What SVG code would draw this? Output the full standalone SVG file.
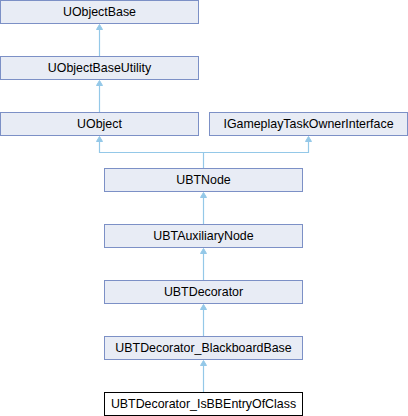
<svg xmlns="http://www.w3.org/2000/svg" width="408" height="416" viewBox="0 0 408 416">
<style>
.n rect{fill:#e8ecf5;stroke:#7c90c6;stroke-width:1}
.n.cur rect{fill:#ffffff;stroke:#000000}
.n text{font-family:"Liberation Sans",Arial,sans-serif;font-size:12.4px;fill:#000;text-anchor:middle}
.e line,.e polyline{stroke:#94c8e8;stroke-width:1.2;fill:none}
.e polygon{fill:#94c8e8;stroke:#94c8e8;stroke-width:1}
</style>
<rect width="408" height="416" fill="#ffffff"/>
<g id="connectors" class="e">
<line x1="99.5" y1="25" x2="99.5" y2="56.5"/>
<polygon points="99.5,24.5 102.5,29.5 96.5,29.5"/>
<line x1="99.5" y1="81" x2="99.5" y2="112.5"/>
<polygon points="99.5,80.5 102.5,85.5 96.5,85.5"/>
<polyline points="99.5,137 99.5,152.5 308.5,152.5 308.5,137"/>
<polygon points="99.5,136.5 102.5,141.5 96.5,141.5"/>
<polygon points="308.5,136.5 311.5,141.5 305.5,141.5"/>
<line x1="203.5" y1="152.5" x2="203.5" y2="168.5"/>
<line x1="203.5" y1="193" x2="203.5" y2="224.5"/>
<polygon points="203.5,192.5 206.5,197.5 200.5,197.5"/>
<line x1="203.5" y1="249" x2="203.5" y2="280.5"/>
<polygon points="203.5,248.5 206.5,253.5 200.5,253.5"/>
<line x1="203.5" y1="305" x2="203.5" y2="336.5"/>
<polygon points="203.5,304.5 206.5,309.5 200.5,309.5"/>
<line x1="203.5" y1="361" x2="203.5" y2="392.5"/>
<polygon points="203.5,360.5 206.5,365.5 200.5,365.5"/>
</g>
<g id="UObjectBase" class="n"><rect x="0.5" y="0.5" width="198" height="23"/><text x="99.5" y="16.3">UObjectBase</text></g>
<g id="UObjectBaseUtility" class="n"><rect x="0.5" y="56.5" width="198" height="23"/><text x="99.5" y="72.3">UObjectBaseUtility</text></g>
<g id="UObject" class="n"><rect x="0.5" y="112.5" width="198" height="23"/><text x="99.5" y="128.3">UObject</text></g>
<g id="IGameplayTaskOwnerInterface" class="n"><rect x="209.5" y="112.5" width="198" height="23"/><text x="308.5" y="128.3">IGameplayTaskOwnerInterface</text></g>
<g id="UBTNode" class="n"><rect x="104.5" y="168.5" width="198" height="23"/><text x="203.5" y="184.3">UBTNode</text></g>
<g id="UBTAuxiliaryNode" class="n"><rect x="104.5" y="224.5" width="198" height="23"/><text x="203.5" y="240.3">UBTAuxiliaryNode</text></g>
<g id="UBTDecorator" class="n"><rect x="104.5" y="280.5" width="198" height="23"/><text x="203.5" y="296.3">UBTDecorator</text></g>
<g id="UBTDecorator_BlackboardBase" class="n"><rect x="104.5" y="336.5" width="198" height="23"/><text x="203.5" y="352.3">UBTDecorator_BlackboardBase</text></g>
<g id="UBTDecorator_IsBBEntryOfClass" class="n cur"><rect x="104.5" y="392.5" width="198" height="23"/><text x="203.5" y="408.3">UBTDecorator_IsBBEntryOfClass</text></g>
</svg>
